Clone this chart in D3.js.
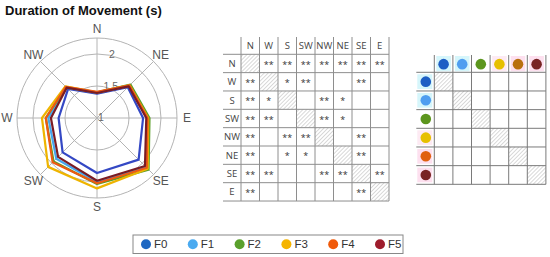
<!DOCTYPE html>
<html><head><meta charset="utf-8">
<script src="https://cdn.jsdelivr.net/npm/d3@7"></script>
<style>
html,body{margin:0;padding:0;background:#fff;}
svg{display:block;}
</style></head>
<body>
<svg id="chart" width="550" height="257"></svg>
<script>
// ---------------- data ----------------
const directions = ["N","NE","E","SE","S","SW","W","NW"];
const seriesNames = ["F0","F1","F2","F3","F4","F5"];
const F0 = [1.38, 1.68, 1.72, 1.92, 1.86, 1.76, 1.60, 1.64];
const F1 = [1.39, 1.71, 1.79, 2.08, 2.00, 1.90, 1.76, 1.67];
const F2 = [1.40, 1.74, 1.82, 2.14, 2.03, 1.96, 1.80, 1.68];
const F3 = [1.40, 1.72, 1.80, 2.12, 2.10, 2.08, 1.86, 1.70];
const F4 = [1.41, 1.72, 1.79, 2.10, 2.02, 1.98, 1.80, 1.69];
const F5 = [1.39, 1.70, 1.77, 2.06, 1.98, 1.86, 1.72, 1.67];
const seriesValues = [F0, F1, F2, F3, F4, F5];
const rDomain = [1, 2.25];
const rTicks = [1, 1.5, 2];

const matrixLabels = ["N","W","S","SW","NW","NE","SE","E"];
const matrixCells = [
  ["x","**","**","**","**","**","**","**"],
  ["**","x","*","**","","","**",""],
  ["**","*","x","","**","*","",""],
  ["**","**","","x","**","*","",""],
  ["**","","**","**","x","","**",""],
  ["**","","*","*","","x","**",""],
  ["**","**","","","**","**","x","**"],
  ["**","","","","","","**","x"]
];
const groupCells = [
  ["x","","","","",""],
  ["","x","","","",""],
  ["","","x","","",""],
  ["","","","x","",""],
  ["","","","","x",""],
  ["","","","","","x"]
];
const title = "Duration of Movement (s)";

// ---------------- styles ----------------
const lineColors = ["#3448c4","#45a6ee","#5a9e28","#eeb400","#ee5a12","#7a1c24"];
const legendColors = ["#1f68c2","#4aaaf0","#5aa02c","#f5b400","#f05a0a","#9e1c2c"];
const headColors = ["#1d5ec4","#4f9ef0","#5c961e","#e6c000","#b8700e","#782424"];
const rowColors  = ["#1d5ec4","#4f9ef0","#5c961e","#e6c000","#e0600e","#782424"];
const tintColors = ["#d6f6fb","#d6f6fb",null,"#fdeaf3","#fde0ef","#fde0ef"];
const gridGray = "#b4b4b4";
const textGray = "#444";
const font = "'Liberation Sans', Arial, sans-serif";
const tfont = "'Open Sans', sans-serif";

const svg = d3.select("#chart");

// defs: hatch
const defs = svg.append("defs");
const pat = defs.append("pattern").attr("id","hatch").attr("patternUnits","userSpaceOnUse")
  .attr("width",2.8).attr("height",2.8).attr("patternTransform","rotate(45)");
pat.append("line").attr("x1",0).attr("y1",0).attr("x2",0).attr("y2",2.8)
  .attr("stroke","#aaaaaa").attr("stroke-width",0.9);

// title
svg.append("text").attr("x",5).attr("y",15).text(title)
  .attr("font-family",font).attr("font-weight","bold").attr("font-size",13).attr("fill","#111");

// ---------------- radar ----------------
const cx = 97, cy = 118, R = 80;
const rScale = d3.scaleLinear().domain(rDomain).range([0, R]);
const angle = d3.scalePoint().domain(directions.concat(["_end"])).range([0, 2*Math.PI]);
const radar = svg.append("g").attr("transform",`translate(${cx},${cy})`);

// circles
radar.selectAll("circle.grid").data(rTicks.filter(t=>t>rDomain[0]).concat([rDomain[1]]))
  .join("circle").attr("r",d=>rScale(d)).attr("fill","none")
  .attr("stroke",gridGray).attr("stroke-width",1);
// spokes
radar.selectAll("line.spoke").data(directions).join("line")
  .attr("x1",0).attr("y1",0)
  .attr("x2",d=>R*Math.sin(angle(d))).attr("y2",d=>-R*Math.cos(angle(d)))
  .attr("stroke",gridGray).attr("stroke-width",1);
// direction labels
radar.selectAll("text.dir").data(directions).join("text")
  .attr("x",d=>90*Math.sin(angle(d))).attr("y",d=>-89*Math.cos(angle(d)))
  .attr("dy","0.36em").attr("text-anchor","middle")
  .attr("font-family",font).attr("font-size",12).attr("fill","#555").text(d=>d);
// r tick labels
const labAng = 10*Math.PI/180;
radar.selectAll("text.rt").data(rTicks).join("text")
  .attr("x",d=>rScale(d)*Math.sin(labAng)+1)
  .attr("y",d=>-rScale(d)*Math.cos(labAng)+3)
  .attr("text-anchor","start").attr("font-family",font).attr("font-size",10.5)
  .attr("fill","#666").text(d=>d);

// series
const lineGen = d3.lineRadial().angle((d,i)=>angle(directions[i])).radius(d=>rScale(d))
  .curve(d3.curveLinearClosed);
radar.selectAll("path.series").data(seriesValues).join("path")
  .attr("d",d=>lineGen(d)).attr("fill","none")
  .attr("stroke",(d,i)=>lineColors[i]).attr("stroke-width",2.2).attr("stroke-linejoin","round");

// ---------------- matrix helper ----------------
function drawMatrix(opt){
  const g = svg.append("g");
  const n = opt.n;
  const x = d3.scaleBand().domain(d3.range(n)).range([opt.x0, opt.x0 + opt.cw*n]);
  const y = d3.scaleBand().domain(d3.range(n)).range([opt.y0 + opt.hh, opt.y0 + opt.hh + opt.rh*n]);
  const left = opt.x0 - opt.hw;
  opt.cells.forEach((row,i)=>row.forEach((c,j)=>{
    if(c==="x") g.append("rect").attr("x",x(j)).attr("y",y(i))
      .attr("width",x.bandwidth()).attr("height",y.bandwidth()).attr("fill","url(#hatch)");
  }));
  d3.range(n+1).forEach(i=>{
    const yy = opt.y0 + opt.hh + opt.rh*i;
    g.append("line").attr("x1",left).attr("x2",opt.x0+opt.cw*n).attr("y1",yy).attr("y2",yy)
      .attr("stroke",opt.lineColor).attr("stroke-width",1);
  });
  d3.range(n+1).forEach(j=>{
    const xx = opt.x0 + opt.cw*j;
    g.append("line").attr("x1",xx).attr("x2",xx).attr("y1",opt.y0).attr("y2",opt.y0+opt.hh+opt.rh*n)
      .attr("stroke",opt.lineColor).attr("stroke-width",1);
  });
  return {g,x,y,left};
}

// ---------------- matrix 1 ----------------
const m1 = drawMatrix({n:8, x0:241, y0:37, cw:18.5, hh:17.3, rh:18.34, hw:18,
  cells:matrixCells, lineColor:"#8e8e8e"});
m1.g.selectAll("text.ch").data(matrixLabels).join("text")
  .attr("x",(d,i)=>m1.x(i)+m1.x.bandwidth()/2).attr("y",37+17.3/2).attr("dy","0.36em")
  .attr("text-anchor","middle").attr("font-family",tfont).attr("font-size",9.5)
  .attr("fill",textGray).text(d=>d);
m1.g.selectAll("text.rh").data(matrixLabels).join("text")
  .attr("x",m1.left+9).attr("y",(d,i)=>m1.y(i)+m1.y.bandwidth()/2).attr("dy","0.36em")
  .attr("text-anchor","middle").attr("font-family",tfont).attr("font-size",9.5)
  .attr("fill",textGray).text(d=>d);
matrixCells.forEach((row,i)=>row.forEach((c,j)=>{
  if(c && c!=="x") m1.g.append("text")
    .attr("x",m1.x(j)+m1.x.bandwidth()/2).attr("y",m1.y(i)+m1.y.bandwidth()/2+4.2)
    .attr("text-anchor","middle").attr("font-family",tfont).attr("font-size",9)
    .attr("fill","#333").text(c);
}));

// ---------------- matrix 2 ----------------
const m2x0 = 434.3, m2y0 = 55, m2cw = 18.6, m2hh = 17.3, m2rh = 18.67;
const tg = svg.append("g");
seriesNames.forEach((s,i)=>{
  if(!tintColors[i]) return;
  tg.append("rect").attr("x",m2x0+m2cw*i+2).attr("y",m2y0+1).attr("width",m2cw-4).attr("height",m2hh-2)
    .attr("fill",tintColors[i]);
  tg.append("rect").attr("x",m2x0-17).attr("y",m2y0+m2hh+m2rh*i+2).attr("width",15).attr("height",m2rh-4)
    .attr("fill",tintColors[i]);
});
const m2 = drawMatrix({n:6, x0:m2x0, y0:m2y0, cw:m2cw, hh:m2hh, rh:m2rh, hw:18,
  cells:groupCells, lineColor:"#7a7a7a"});
m2.g.selectAll("circle.ch").data(seriesNames).join("circle")
  .attr("cx",(d,i)=>m2.x(i)+m2.x.bandwidth()/2).attr("cy",m2y0+m2hh/2+0.5).attr("r",5.3)
  .attr("fill",(d,i)=>headColors[i]);
m2.g.selectAll("circle.rh").data(seriesNames).join("circle")
  .attr("cx",m2.left+9.5).attr("cy",(d,i)=>m2.y(i)+m2.y.bandwidth()/2).attr("r",5.3)
  .attr("fill",(d,i)=>rowColors[i]);

// ---------------- legend ----------------
const lg = svg.append("g");
lg.append("rect").attr("x",133).attr("y",235).attr("width",270).attr("height",18.5)
  .attr("fill","#fff").attr("stroke","#888").attr("stroke-width",1);
const lx = d3.scalePoint().domain(seriesNames).range([146, 380]);
lg.selectAll("circle").data(seriesNames).join("circle")
  .attr("cx",d=>lx(d)).attr("cy",244.3).attr("r",5).attr("fill",(d,i)=>legendColors[i]);
lg.selectAll("text").data(seriesNames).join("text")
  .attr("x",d=>lx(d)+8).attr("y",244.3).attr("dy","0.36em")
  .attr("font-family",font).attr("font-size",11.5).attr("fill","#333").text(d=>d);
</script>
</body></html>
